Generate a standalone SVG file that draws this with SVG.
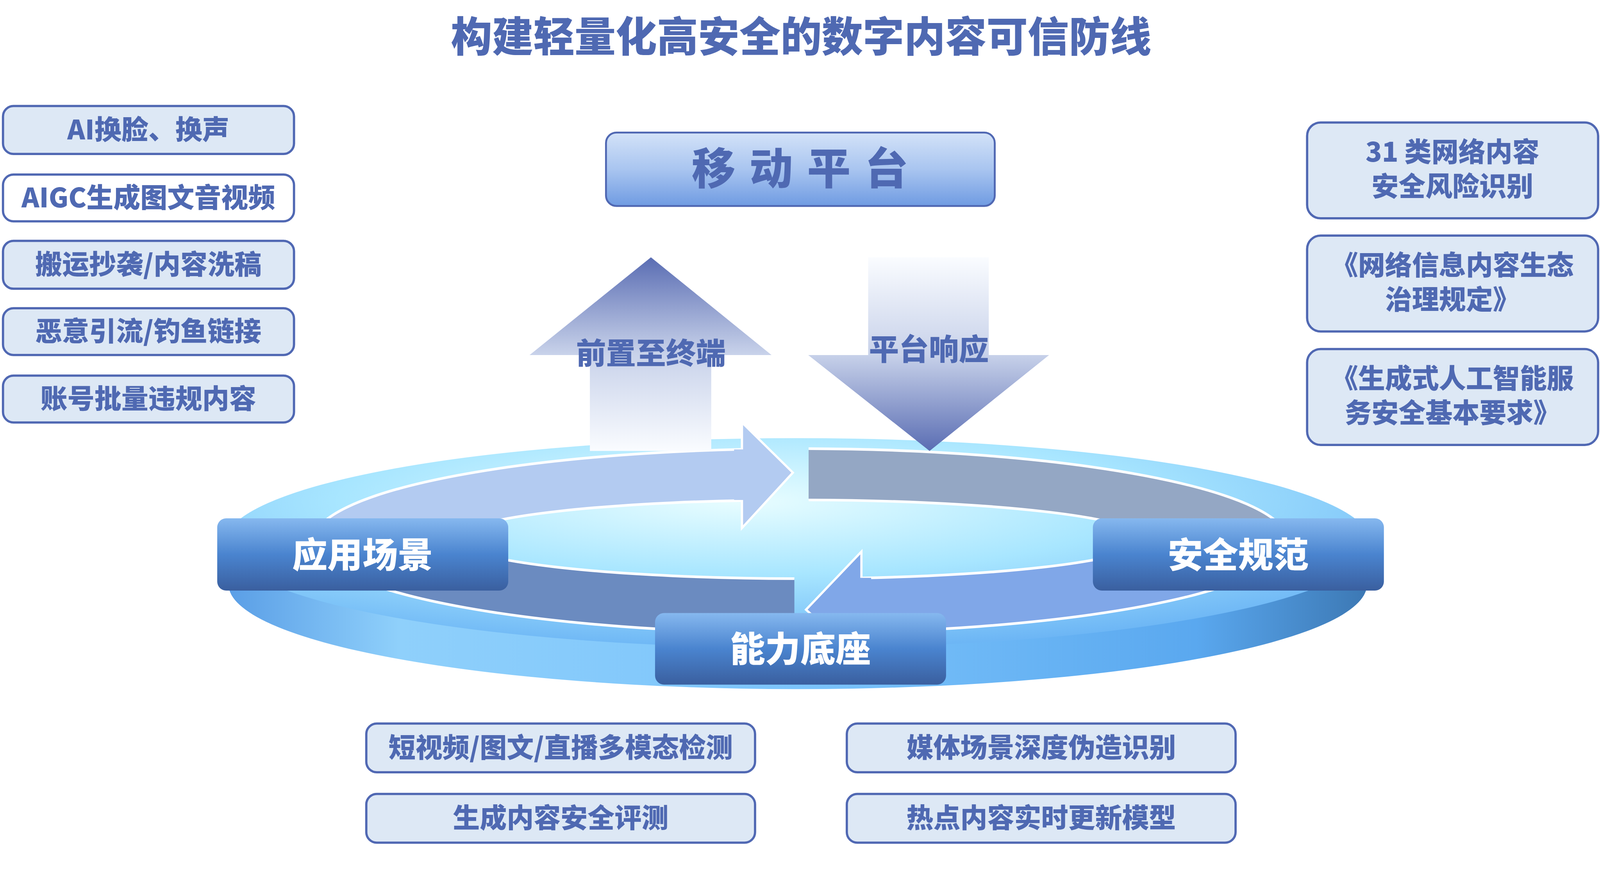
<svg xmlns="http://www.w3.org/2000/svg" width="4272" height="2276" viewBox="0 0 4272 2276">
<defs>
<style>
.t{font-family:"Noto Sans CJK SC","Liberation Sans",sans-serif;font-weight:900;fill:#4f69b2;text-anchor:middle}
.box{fill:#dde8f5;stroke:#5068b3;stroke-width:6}
.lbl{font-family:"Noto Sans CJK SC","Liberation Sans",sans-serif;font-weight:900;fill:#fff;text-anchor:middle;font-size:94px}
</style>
<linearGradient id="gPlat" x1="0" y1="0" x2="0" y2="1"><stop offset="0" stop-color="#d3e2f8"/><stop offset="0.5" stop-color="#a9c5f0"/><stop offset="1" stop-color="#6f9be2"/></linearGradient>
<linearGradient id="gLbl" x1="0" y1="0" x2="0" y2="1"><stop offset="0" stop-color="#86b8ef"/><stop offset="0.5" stop-color="#4a84cf"/><stop offset="1" stop-color="#3a5f9f"/></linearGradient>
<linearGradient id="gUp" x1="0" y1="0" x2="0" y2="1"><stop offset="0" stop-color="#5a6db3"/><stop offset="0.5" stop-color="#c8d2ea"/><stop offset="1" stop-color="#fafcff"/></linearGradient>
<linearGradient id="gDn" x1="0" y1="0" x2="0" y2="1"><stop offset="0" stop-color="#fafcff"/><stop offset="0.5" stop-color="#c8d2ea"/><stop offset="1" stop-color="#5a6db3"/></linearGradient>
<linearGradient id="gSide" x1="0" y1="0" x2="1" y2="0"><stop offset="0" stop-color="#5a9ee6"/><stop offset="0.15" stop-color="#8fd0fb"/><stop offset="0.5" stop-color="#7cc4fb"/><stop offset="0.85" stop-color="#5aa8ef"/><stop offset="1" stop-color="#3c78b4"/></linearGradient>
<radialGradient id="gTop" cx="0.45" cy="0.3" r="0.7"><stop offset="0" stop-color="#e8fdff"/><stop offset="0.5" stop-color="#a8e6ff"/><stop offset="1" stop-color="#6db6f5"/></radialGradient>
<clipPath id="cTL"><rect x="0" y="0" width="1984" height="1444"/></clipPath>
<clipPath id="cTR"><rect x="2159" y="0" width="2000" height="1444"/></clipPath>
<clipPath id="cBL"><rect x="0" y="1444" width="2121" height="800"/></clipPath>
<clipPath id="cBR"><rect x="2300" y="1444" width="2000" height="800"/></clipPath>
</defs>
<rect width="4272" height="2276" fill="#fff"/>
<g transform="scale(0.9588)">
<text class="t" x="2139" y="138" font-size="110">构建轻量化高安全的数字内容可信防线</text>

<g id="left-risks">
<rect class="box" x="8" y="283" width="777" height="128" rx="28"/><text class="t" x="396" y="372" font-size="72">AI换脸、换声</text>
<rect class="box" x="8" y="466" width="777" height="125" rx="28" style="fill:#fff"/><text class="t" x="396" y="554" font-size="72">AIGC生成图文音视频</text>
<rect class="box" x="8" y="643" width="777" height="128" rx="28"/><text class="t" x="396" y="732" font-size="72">搬运抄袭/内容洗稿</text>
<rect class="box" x="8" y="823" width="777" height="125" rx="28"/><text class="t" x="396" y="911" font-size="72">恶意引流/钓鱼链接</text>
<rect class="box" x="8" y="1003" width="777" height="125" rx="28"/><text class="t" x="396" y="1091" font-size="72">账号批量违规内容</text>
</g>

<g id="right-rules">
<rect class="box" x="3490" y="327" width="777" height="256" rx="36"/><text class="t" x="3878" y="432" font-size="72">31 类网络内容</text><text class="t" x="3878" y="524" font-size="72">安全风险识别</text>
<rect class="box" x="3490" y="629" width="777" height="256" rx="36"/><text class="t" x="3878" y="734" font-size="72">《网络信息内容生态</text><text class="t" x="3878" y="826" font-size="72">治理规定》</text>
<rect class="box" x="3490" y="932" width="777" height="256" rx="36"/><text class="t" x="3878" y="1037" font-size="72">《生成式人工智能服</text><text class="t" x="3878" y="1129" font-size="72">务安全基本要求》</text>
</g>

<g id="bottom-caps">
<rect class="box" x="978" y="1932" width="1038" height="130" rx="28"/><text class="t" x="1497" y="2022" font-size="72">短视频/图文/直播多模态检测</text>
<rect class="box" x="2261" y="1932" width="1038" height="130" rx="28"/><text class="t" x="2780" y="2022" font-size="72">媒体场景深度伪造识别</text>
<rect class="box" x="978" y="2120" width="1038" height="130" rx="28"/><text class="t" x="1497" y="2210" font-size="72">生成内容安全评测</text>
<rect class="box" x="2261" y="2120" width="1038" height="130" rx="28"/><text class="t" x="2780" y="2210" font-size="72">热点内容实时更新模型</text>
</g>

<g id="platform">
<rect x="1618" y="354" width="1038" height="196" rx="28" fill="url(#gPlat)" stroke="#5068b3" stroke-width="5"/>
<text class="t" x="2155" y="492" font-size="116" letter-spacing="38">移动平台</text>
</g>

<g id="ring">
<ellipse cx="2130" cy="1560" rx="1520" ry="280" fill="url(#gSide)"/>
<ellipse cx="2130" cy="1450" rx="1530" ry="280" fill="url(#gTop)"/>
<path d="M837 1444a1300 246 0 1 0 2600 0a1300 246 0 1 0 -2600 0zM1216 1440a920 105 0 1 1 1840 0a920 105 0 1 1 -1840 0z" fill="#b3cbf1" fill-rule="evenodd" stroke="#fff" stroke-width="7" clip-path="url(#cTL)"/>
<path d="M837 1444a1300 246 0 1 0 2600 0a1300 246 0 1 0 -2600 0zM1216 1440a920 105 0 1 1 1840 0a920 105 0 1 1 -1840 0z" fill="#94a7c4" fill-rule="evenodd" stroke="#fff" stroke-width="7" clip-path="url(#cTR)"/>
<path d="M837 1444a1300 246 0 1 0 2600 0a1300 246 0 1 0 -2600 0zM1216 1440a920 105 0 1 1 1840 0a920 105 0 1 1 -1840 0z" fill="#6b8bc0" fill-rule="evenodd" stroke="#fff" stroke-width="7" clip-path="url(#cBL)"/>
<path d="M837 1444a1300 246 0 1 0 2600 0a1300 246 0 1 0 -2600 0zM1216 1440a920 105 0 1 1 1840 0a920 105 0 1 1 -1840 0z" fill="#80a7e8" fill-rule="evenodd" stroke="#fff" stroke-width="7" clip-path="url(#cBR)"/>
<polygon points="1981,1128 2117,1262 1981,1410" fill="#b3cbf1" stroke="#fff" stroke-width="6"/>
<rect x="1960" y="1200" width="25" height="135" fill="#b3cbf1"/>
<polygon points="2300,1473 2152,1628 2300,1760" fill="#80a7e8" stroke="#fff" stroke-width="6"/>
<rect x="2296" y="1543" width="30" height="150" fill="#80a7e8"/>
</g>

<g id="arrows">
<polygon points="1738,687 2060,948 1899,948 1899,1204 1575,1204 1575,948 1414,948" fill="url(#gUp)"/>
<text class="t" x="1738" y="972" font-size="80">前置至终端</text>
<polygon points="2318,687 2640,687 2640,948 2801,948 2482,1204 2158,948 2318,948" fill="url(#gDn)"/>
<text class="t" x="2480" y="962" font-size="80">平台响应</text>
</g>

<g id="n-app"><rect x="580" y="1384" width="777" height="193" rx="24" fill="url(#gLbl)"/><text class="lbl" x="968" y="1515">应用场景</text></g>
<g id="n-sec"><rect x="2918" y="1384" width="777" height="193" rx="24" fill="url(#gLbl)"/><text class="lbl" x="3306" y="1515">安全规范</text></g>
<g id="n-cap"><rect x="1749" y="1637" width="777" height="191" rx="24" fill="url(#gLbl)"/><text class="lbl" x="2137" y="1767">能力底座</text></g>
</g>
</svg>
